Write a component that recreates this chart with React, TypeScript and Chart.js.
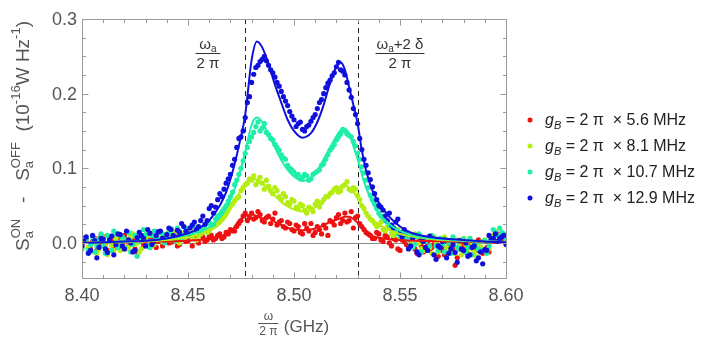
import React, { useEffect, useRef } from 'react';
import { Chart, registerables } from 'chart.js';

Chart.register(...registerables);

// ---------------- DATA ----------------
// measurement grid A (even)
const freq = [
  8.400, 8.402, 8.404, 8.406, 8.408, 8.410, 8.412, 8.414, 8.416, 8.418,
  8.420, 8.422, 8.424, 8.426, 8.428, 8.430, 8.432, 8.434, 8.436, 8.438,
  8.440, 8.442, 8.444, 8.446, 8.448, 8.450, 8.452, 8.454, 8.456, 8.458,
  8.460, 8.462, 8.464, 8.466, 8.468, 8.470, 8.472, 8.474, 8.476, 8.478,
  8.480, 8.482, 8.484, 8.486, 8.488, 8.490, 8.492, 8.494, 8.496, 8.498,
  8.500, 8.502, 8.504, 8.506, 8.508, 8.510, 8.512, 8.514, 8.516, 8.518,
  8.520, 8.522, 8.524, 8.526, 8.528, 8.530, 8.532, 8.534, 8.536, 8.538,
  8.540, 8.542, 8.544, 8.546, 8.548, 8.550, 8.552, 8.554, 8.556, 8.558,
  8.560, 8.562, 8.564, 8.566, 8.568, 8.570, 8.572, 8.574, 8.576, 8.578,
  8.580, 8.582, 8.584, 8.586, 8.588, 8.590, 8.592, 8.594, 8.596, 8.598,
  8.600,
];
// measurement grid B (odd)
const freqB = [
  8.401, 8.403, 8.405, 8.407, 8.409, 8.411, 8.413, 8.415, 8.417, 8.419,
  8.421, 8.423, 8.425, 8.427, 8.429, 8.431, 8.433, 8.435, 8.437, 8.439,
  8.441, 8.443, 8.445, 8.447, 8.449, 8.451, 8.453, 8.455, 8.457, 8.459,
  8.461, 8.463, 8.465, 8.467, 8.469, 8.471, 8.473, 8.475, 8.477, 8.479,
  8.481, 8.483, 8.485, 8.487, 8.489, 8.491, 8.493, 8.495, 8.497, 8.499,
  8.501, 8.503, 8.505, 8.507, 8.509, 8.511, 8.513, 8.515, 8.517, 8.519,
  8.521, 8.523, 8.525, 8.527, 8.529, 8.531, 8.533, 8.535, 8.537, 8.539,
  8.541, 8.543, 8.545, 8.547, 8.549, 8.551, 8.553, 8.555, 8.557, 8.559,
  8.561, 8.563, 8.565, 8.567, 8.569, 8.571, 8.573, 8.575, 8.577, 8.579,
  8.581, 8.583, 8.585, 8.587, 8.589, 8.591, 8.593, 8.595, 8.597, 8.599,
];

const redPts = [
  -0.002, 0.004, -0.008, 0.006, -0.004, 0.008, -0.010, 0.002, -0.006, 0.005,
  0.010, -0.004, 0.003, -0.012, 0.006, 0.000, -0.006, 0.008, 0.002, -0.004,
  0.006, 0.001, 0.008, -0.002, 0.010, 0.003, -0.004, 0.006, 0.012, 0.002,
  0.008, 0.004, 0.010, 0.006, 0.014, 0.018, 0.016, 0.026, 0.036, 0.030,
  0.040, 0.034, 0.038, 0.028, 0.036, 0.032, 0.024, 0.030, 0.020, 0.026,
  0.016, 0.022, 0.012, 0.020, 0.026, 0.014, 0.018, 0.024, 0.010, 0.028,
  0.034, 0.026, 0.040, 0.030, 0.020, 0.036, 0.022, 0.014, 0.010, 0.006,
  0.012, 0.002, 0.008, -0.004, 0.004, -0.010, 0.002, -0.006, 0.008, -0.014,
  -0.004, 0.006, -0.010, -0.002, -0.018, -0.006, 0.002, -0.012, -0.030, -0.008,
  -0.004, -0.014, 0.000, -0.010, -0.006, 0.002, -0.012, 0.008, 0.012, 0.004,
  0.010,
];
const redPtsB = [
  0.006, -0.006, 0.002, -0.010, 0.010, -0.002, 0.004, -0.008, 0.008, -0.002,
  0.004, 0.012, -0.008, 0.002, -0.004, 0.008, 0.004, -0.006, 0.010, 0.004,
  0.000, 0.006, -0.004, 0.008, 0.002, 0.010, 0.006, 0.000, 0.008, 0.004,
  0.010, 0.006, 0.012, 0.008, 0.012, 0.016, 0.022, 0.030, 0.040, 0.034,
  0.032, 0.042, 0.030, 0.034, 0.026, 0.040, 0.028, 0.022, 0.028, 0.018,
  0.024, 0.014, 0.026, 0.016, 0.010, 0.022, 0.012, 0.020, 0.030, 0.024,
  0.038, 0.030, 0.028, 0.042, 0.034, 0.026, 0.018, 0.012, 0.006, 0.014,
  0.004, 0.010, 0.000, 0.006, -0.008, 0.004, -0.002, 0.010, -0.008, 0.002,
  -0.012, 0.000, -0.006, 0.004, -0.010, -0.016, -0.004, -0.008, -0.020, 0.002,
  -0.012, -0.004, -0.010, 0.004, -0.014, -0.006, 0.006, 0.002, 0.010, 0.006,
];

const greenPts = [
  -0.006, 0.002, -0.012, 0.004, -0.008, 0.007, -0.016, -0.003, 0.006, -0.010,
  0.003, -0.005, 0.012, 0.000, -0.008, 0.006, 0.010, -0.002, 0.008, 0.002,
  0.012, 0.004, 0.010, 0.000, 0.006, 0.014, 0.008, 0.004, 0.012, 0.018,
  0.016, 0.022, 0.028, 0.032, 0.040, 0.050, 0.056, 0.062, 0.074, 0.080,
  0.084, 0.078, 0.088, 0.072, 0.076, 0.066, 0.070, 0.058, 0.062, 0.052,
  0.056, 0.046, 0.050, 0.040, 0.046, 0.052, 0.048, 0.058, 0.062, 0.068,
  0.074, 0.070, 0.078, 0.072, 0.074, 0.064, 0.050, 0.040, 0.032, 0.026,
  0.024, 0.018, 0.022, 0.012, 0.016, 0.008, 0.014, 0.004, -0.004, 0.010,
  -0.008, 0.002, -0.006, 0.008, -0.012, 0.004, -0.006, 0.002, -0.014, -0.004,
  0.006, -0.010, 0.000, -0.018, -0.006, 0.004, -0.008, 0.010, 0.002, 0.012,
  0.004,
];
const greenPtsB = [
  0.004, -0.006, 0.000, -0.014, 0.008, -0.004, 0.002, -0.010, 0.010, 0.004,
  -0.008, 0.008, -0.002, -0.012, 0.004, 0.012, -0.004, 0.006, 0.014, 0.004,
  0.008, 0.014, 0.002, 0.012, 0.008, 0.010, 0.016, 0.010, 0.018, 0.014,
  0.020, 0.026, 0.030, 0.036, 0.046, 0.052, 0.060, 0.070, 0.078, 0.086,
  0.090, 0.082, 0.080, 0.084, 0.070, 0.074, 0.062, 0.066, 0.054, 0.058,
  0.048, 0.052, 0.044, 0.048, 0.042, 0.056, 0.054, 0.062, 0.066, 0.072,
  0.068, 0.076, 0.082, 0.070, 0.072, 0.058, 0.046, 0.036, 0.030, 0.022,
  0.028, 0.016, 0.020, 0.010, 0.018, 0.006, 0.010, -0.002, 0.012, 0.000,
  -0.010, 0.006, -0.014, 0.002, -0.004, 0.008, -0.010, -0.002, 0.004, -0.016,
  -0.002, 0.006, -0.012, -0.004, 0.002, -0.010, 0.008, 0.016, 0.006, 0.010,
];

const cyanPts = [
  -0.008, 0.004, -0.002, -0.012, 0.006, -0.004, 0.010, -0.010, 0.012, 0.001,
  -0.006, 0.014, -0.002, -0.018, 0.005, 0.011, -0.006, 0.016, 0.004, 0.012,
  0.008, 0.019, 0.003, 0.016, 0.010, 0.020, 0.012, 0.019, 0.015, 0.024,
  0.028, 0.025, 0.036, 0.042, 0.050, 0.062, 0.078, 0.092, 0.110, 0.128,
  0.142, 0.156, 0.150, 0.160, 0.145, 0.138, 0.128, 0.118, 0.112, 0.100,
  0.095, 0.092, 0.088, 0.090, 0.086, 0.094, 0.098, 0.106, 0.118, 0.128,
  0.138, 0.146, 0.150, 0.144, 0.136, 0.120, 0.102, 0.084, 0.064, 0.052,
  0.040, 0.034, 0.028, 0.022, 0.018, 0.010, 0.016, 0.004, -0.006, 0.008,
  -0.012, 0.002, -0.004, 0.006, -0.010, -0.002, 0.004, -0.014, 0.002, -0.008,
  0.005, -0.006, -0.016, 0.000, -0.010, 0.003, -0.004, 0.018, 0.010, 0.014,
  0.006,
];
const cyanPtsB = [
  0.004, -0.010, 0.008, -0.004, 0.012, -0.014, 0.002, 0.016, -0.006, 0.008,
  0.004, -0.012, 0.010, 0.002, 0.018, -0.004, 0.010, 0.006, 0.014, 0.000,
  0.014, 0.008, 0.020, 0.006, 0.016, 0.010, 0.022, 0.016, 0.020, 0.026,
  0.024, 0.032, 0.038, 0.046, 0.056, 0.068, 0.084, 0.100, 0.120, 0.136,
  0.148, 0.162, 0.154, 0.148, 0.140, 0.132, 0.124, 0.114, 0.104, 0.098,
  0.090, 0.086, 0.092, 0.084, 0.092, 0.096, 0.104, 0.112, 0.124, 0.132,
  0.142, 0.152, 0.146, 0.142, 0.130, 0.112, 0.094, 0.074, 0.058, 0.046,
  0.036, 0.030, 0.024, 0.020, 0.012, 0.014, 0.006, 0.010, -0.002, 0.012,
  0.004, -0.008, 0.010, -0.004, 0.006, -0.012, 0.000, 0.008, -0.006, 0.004,
  -0.012, 0.006, -0.002, -0.008, 0.002, -0.014, 0.006, 0.014, 0.020, 0.012,
];

const bluePts = [
  -0.004, 0.008, -0.010, 0.003, -0.006, 0.005, -0.013, 0.009, -0.002, 0.011,
  -0.008, 0.004, -0.012, 0.007, 0.010, -0.004, 0.013, 0.002, 0.015, 0.006,
  0.011, 0.018, 0.008, 0.014, 0.022, 0.012, 0.024, 0.018, 0.030, 0.025,
  0.046, 0.040, 0.058, 0.062, 0.080, 0.092, 0.112, 0.140, 0.150, 0.188,
  0.215, 0.235, 0.243, 0.250, 0.238, 0.228, 0.215, 0.203, 0.190, 0.176,
  0.165, 0.160, 0.152, 0.156, 0.163, 0.172, 0.188, 0.200, 0.214, 0.224,
  0.236, 0.232, 0.225, 0.205, 0.180, 0.160, 0.125, 0.104, 0.085, 0.066,
  0.050, 0.044, 0.030, 0.024, 0.028, 0.013, 0.018, -0.008, 0.006, -0.012,
  0.004, -0.006, 0.009, -0.016, -0.004, 0.002, -0.020, -0.008, -0.013, 0.003,
  -0.010, -0.018, -0.006, -0.024, -0.012, -0.009, 0.010, 0.006, 0.002, 0.008,
  -0.002,
];
const bluePtsB = [
  0.002, -0.014, 0.010, -0.020, 0.006, -0.008, 0.004, -0.016, 0.012, -0.004,
  0.016, 0.000, -0.010, 0.014, 0.006, 0.018, -0.002, 0.010, 0.016, 0.004,
  0.020, 0.010, 0.017, 0.026, 0.016, 0.020, 0.028, 0.022, 0.036, 0.030,
  0.050, 0.048, 0.066, 0.072, 0.086, 0.104, 0.128, 0.142, 0.168, 0.196,
  0.226, 0.238, 0.246, 0.244, 0.232, 0.222, 0.210, 0.196, 0.184, 0.170,
  0.156, 0.162, 0.150, 0.158, 0.168, 0.180, 0.192, 0.208, 0.218, 0.228,
  0.242, 0.230, 0.215, 0.195, 0.172, 0.140, 0.112, 0.094, 0.075, 0.058,
  0.048, 0.036, 0.040, 0.020, 0.032, 0.008, 0.012, -0.004, 0.010, -0.016,
  0.002, -0.010, 0.006, -0.022, -0.006, 0.004, -0.014, -0.002, -0.026, -0.008,
  0.000, -0.016, -0.004, -0.020, -0.028, -0.010, 0.004, 0.012, 0.006, 0.010,
];

// fitted model curves
const fitFreq = [
  8.400, 8.410, 8.420, 8.430, 8.440, 8.450, 8.455, 8.460, 8.465, 8.468,
  8.471, 8.474, 8.477, 8.480, 8.4825, 8.485, 8.488, 8.491, 8.494, 8.497,
  8.500, 8.504, 8.508, 8.511, 8.514, 8.517, 8.520, 8.522, 8.524, 8.526,
  8.528, 8.530, 8.532, 8.534, 8.537, 8.540, 8.545, 8.550, 8.555, 8.560,
  8.570, 8.580, 8.590, 8.600,
];
const redFit = [
  0.000, 0.001, 0.001, 0.002, 0.002, 0.003, 0.004, 0.005, 0.008, 0.012,
  0.018, 0.030, 0.036, 0.038, 0.036, 0.033, 0.034, 0.028, 0.024, 0.020,
  0.018, 0.017, 0.018, 0.020, 0.024, 0.028, 0.031, 0.033, 0.035, 0.035,
  0.032, 0.027, 0.021, 0.014, 0.009, 0.007, 0.005, 0.004, 0.003, 0.003,
  0.002, 0.002, 0.001, 0.001,
];
const greenFit = [
  0.000, 0.001, 0.001, 0.002, 0.004, 0.008, 0.011, 0.016, 0.025, 0.035,
  0.050, 0.066, 0.080, 0.086, 0.085, 0.080, 0.072, 0.063, 0.055, 0.049,
  0.045, 0.042, 0.044, 0.050, 0.058, 0.066, 0.073, 0.076, 0.077, 0.074,
  0.068, 0.060, 0.050, 0.040, 0.031, 0.025, 0.017, 0.012, 0.009, 0.007,
  0.004, 0.003, 0.002, 0.001,
];
const cyanFit = [
  0.000, 0.001, 0.002, 0.003, 0.006, 0.011, 0.015, 0.021, 0.034, 0.046,
  0.065, 0.090, 0.122, 0.158, 0.168, 0.162, 0.146, 0.128, 0.111, 0.098,
  0.089, 0.083, 0.087, 0.097, 0.112, 0.128, 0.143, 0.151, 0.153, 0.146,
  0.130, 0.112, 0.092, 0.074, 0.054, 0.040, 0.025, 0.016, 0.011, 0.008,
  0.005, 0.003, 0.002, 0.001,
];
const blueFit = [
  0.000, 0.001, 0.002, 0.003, 0.006, 0.013, 0.019, 0.030, 0.050, 0.068,
  0.095, 0.130, 0.172, 0.245, 0.270, 0.262, 0.240, 0.212, 0.188, 0.165,
  0.150, 0.141, 0.147, 0.162, 0.185, 0.214, 0.236, 0.242, 0.232, 0.209,
  0.185, 0.160, 0.124, 0.097, 0.070, 0.054, 0.035, 0.022, 0.014, 0.010,
  0.006, 0.004, 0.002, 0.001,
];

const couplings = ['5.6', '8.1', '10.7', '12.9'];
const seriesColors = ['#ee1111', '#b4ee11', '#1eeeaa', '#1010dd'];

const xTickValues = [8.40, 8.45, 8.50, 8.55, 8.60];
const xTickLabels = ['8.40', '8.45', '8.50', '8.55', '8.60'];
const yTickValues = [0.0, 0.1, 0.2, 0.3];
const yTickLabels = ['0.0', '0.1', '0.2', '0.3'];
const markerLines = [8.477, 8.530];

// ---------------- STYLE / HELPERS ----------------
const FONT = '"Liberation Sans", Arial, Helvetica, sans-serif';

type Seg = { t: string; s: number; it?: boolean; dy?: number; noAdv?: boolean };

function segFont(g: Seg) {
  return `${g.it ? 'italic ' : ''}${g.s}px ${FONT}`;
}
function richWidth(ctx: CanvasRenderingContext2D, segs: Seg[]) {
  let w = 0;
  for (const g of segs) {
    if (g.noAdv) continue;
    ctx.font = segFont(g);
    w += ctx.measureText(g.t).width;
  }
  return w;
}
function drawRich(
  ctx: CanvasRenderingContext2D,
  segs: Seg[],
  x: number,
  y: number,
  align: 'left' | 'center' | 'right'
) {
  const w = richWidth(ctx, segs);
  let cx = align === 'left' ? x : align === 'center' ? x - w / 2 : x - w;
  ctx.textAlign = 'left';
  ctx.textBaseline = 'alphabetic';
  for (const g of segs) {
    ctx.font = segFont(g);
    ctx.fillText(g.t, cx, y + (g.dy || 0));
    if (!g.noAdv) cx += ctx.measureText(g.t).width;
  }
  return w;
}

function drawFraction(
  ctx: CanvasRenderingContext2D,
  top: Seg[],
  bottom: Seg[],
  cx: number,
  lineY: number,
  gapTop: number,
  gapBottom: number,
  color: string
) {
  ctx.fillStyle = color;
  const w1 = drawRich(ctx, top, cx, lineY - gapTop, 'center');
  const w2 = drawRich(ctx, bottom, cx, lineY + gapBottom, 'center');
  const w = Math.max(w1, w2) + 2;
  ctx.strokeStyle = color;
  ctx.lineWidth = 1;
  ctx.beginPath();
  ctx.moveTo(cx - w / 2, lineY + 0.5);
  ctx.lineTo(cx + w / 2, lineY + 0.5);
  ctx.stroke();
  return w;
}

const decorPlugin = {
  id: 'decor',
  beforeDatasetsDraw(chart: any) {
    const { ctx, chartArea: a, scales } = chart;
    const x = scales.x;
    const y = scales.y;
    ctx.save();
    const y0 = Math.round(y.getPixelForValue(0)) + 0.5;
    ctx.strokeStyle = '#8c8c8c';
    ctx.lineWidth = 1;
    ctx.beginPath();
    ctx.moveTo(a.left, y0);
    ctx.lineTo(a.right, y0);
    ctx.stroke();
    ctx.strokeStyle = '#222';
    ctx.setLineDash([5, 4]);
    for (const m of markerLines) {
      const px = Math.round(x.getPixelForValue(m)) + 0.5;
      ctx.beginPath();
      ctx.moveTo(px, a.top);
      ctx.lineTo(px, a.bottom);
      ctx.stroke();
    }
    ctx.restore();
  },
  afterDatasetsDraw(chart: any) {
    const { ctx, chartArea: a, scales } = chart;
    const x = scales.x;
    const y = scales.y;
    ctx.save();
    const L = Math.round(a.left) + 0.5;
    const R = Math.round(a.right) + 0.5;
    const T = Math.round(a.top) + 0.5;
    const B = Math.round(a.bottom) + 0.5;
    ctx.strokeStyle = '#9a9a9a';
    ctx.lineWidth = 1;
    ctx.strokeRect(L, T, R - L, B - T);

    // ticks (inward, on all four sides)
    ctx.beginPath();
    for (let i = 0; ; i++) {
      const v = 8.40 + i * 0.01;
      if (v > x.max + 1e-9) break;
      const len = i % 5 === 0 ? 6 : 3.5;
      const px = Math.round(x.getPixelForValue(v)) + 0.5;
      ctx.moveTo(px, B);
      ctx.lineTo(px, B - len);
      ctx.moveTo(px, T);
      ctx.lineTo(px, T + len);
    }
    for (let i = -2; ; i++) {
      const v = i * 0.025;
      if (v > y.max + 1e-9) break;
      if (v < y.min) continue;
      const len = i % 4 === 0 ? 6 : 3.5;
      const py = Math.round(y.getPixelForValue(v)) + 0.5;
      ctx.moveTo(L, py);
      ctx.lineTo(L + len, py);
      ctx.moveTo(R, py);
      ctx.lineTo(R - len, py);
    }
    ctx.stroke();

    // tick labels
    ctx.fillStyle = '#555';
    ctx.font = `18px ${FONT}`;
    ctx.textAlign = 'center';
    ctx.textBaseline = 'middle';
    xTickValues.forEach((v, i) => {
      ctx.fillText(xTickLabels[i], x.getPixelForValue(v), 296);
    });
    ctx.textAlign = 'right';
    yTickValues.forEach((v, i) => {
      ctx.fillText(yTickLabels[i], a.left - 5, y.getPixelForValue(v) + 1);
    });

    // x axis title
    const cxTitle = (a.left + a.right) / 2;
    ctx.font = `17px ${FONT}`;
    const gW = ctx.measureText('(GHz)').width;
    const fracW = 19;
    const total = fracW + 6 + gW;
    const startX = cxTitle - total / 2;
    drawFraction(ctx, [{ t: 'ω', s: 12 }], [{ t: '2 π', s: 12 }], startX + fracW / 2, 323, 3, 12, '#555');
    ctx.fillStyle = '#555';
    drawRich(ctx, [{ t: '(GHz)', s: 17 }], startX + fracW + 6, 332, 'left');

    // y axis title (rotated)
    ctx.save();
    ctx.translate(29, 136);
    ctx.rotate(-Math.PI / 2);
    ctx.fillStyle = '#555';
    const ySegs: Seg[] = [
      { t: 'S', s: 19 },
      { t: 'a', s: 13, dy: 4, noAdv: true },
      { t: 'ON', s: 13, dy: -9 },
      { t: '   -   ', s: 19 },
      { t: 'S', s: 19 },
      { t: 'a', s: 13, dy: 4, noAdv: true },
      { t: 'OFF', s: 13, dy: -9 },
      { t: '  (10', s: 19 },
      { t: '-16', s: 13, dy: -9 },
      { t: 'W Hz', s: 19 },
      { t: '-1', s: 13, dy: -9 },
      { t: ')', s: 19 },
    ];
    drawRich(ctx, ySegs, 0, 0, 'center');
    ctx.restore();

    // annotations
    drawFraction(
      ctx,
      [{ t: 'ω', s: 15 }, { t: 'a', s: 10, dy: 3 }],
      [{ t: '2 π', s: 15 }],
      208, 53, 4, 15, '#333'
    );
    drawFraction(
      ctx,
      [{ t: 'ω', s: 15 }, { t: 'a', s: 10, dy: 3 }, { t: '+2 δ', s: 15 }],
      [{ t: '2 π', s: 15 }],
      400, 53, 4, 15, '#333'
    );

    // legend
    const rows = [120, 146, 172, 198];
    couplings.forEach((c, i) => {
      const cy = rows[i];
      ctx.fillStyle = seriesColors[i];
      ctx.beginPath();
      ctx.arc(530, cy, 2.5, 0, Math.PI * 2);
      ctx.fill();
      ctx.fillStyle = '#222';
      drawRich(
        ctx,
        [
          { t: 'g', s: 16, it: true },
          { t: 'B', s: 11, it: true, dy: 4 },
          { t: ` = 2 π  × ${c} MHz`, s: 16 },
        ],
        545,
        cy + 5,
        'left'
      );
    });

    ctx.restore();
  },
};

function buildDatasets() {
  const ptsA = [redPts, greenPts, cyanPts, bluePts];
  const ptsB = [redPtsB, greenPtsB, cyanPtsB, bluePtsB];
  const fits = [redFit, greenFit, cyanFit, blueFit];
  const ds: any[] = [];
  fits.forEach((f, i) => {
    ds.push({
      type: 'line',
      label: `fit ${couplings[i]}`,
      data: fitFreq.map((fx, k) => ({ x: fx, y: f[k] })),
      borderColor: seriesColors[i],
      borderWidth: 2,
      pointRadius: 0,
      fill: false,
      cubicInterpolationMode: 'monotone',
      order: 3 - i,
    });
  });
  ptsA.forEach((p, i) => {
    const data = [
      ...freq.map((fx, k) => ({ x: fx, y: p[k] })),
      ...freqB.map((fx, k) => ({ x: fx, y: ptsB[i][k] })),
    ];
    ds.push({
      type: 'scatter',
      label: `g ${couplings[i]}`,
      data,
      backgroundColor: seriesColors[i],
      borderWidth: 0,
      pointRadius: 2.6,
      order: 13 - i,
    });
  });
  return ds;
}

export default function App() {
  const ref = useRef<HTMLCanvasElement | null>(null);
  useEffect(() => {
    if (!ref.current) return;
    const chart = new Chart(ref.current, {
      type: 'scatter',
      data: { datasets: buildDatasets() },
      options: {
        responsive: false,
        maintainAspectRatio: false,
        devicePixelRatio: 1,
        animation: false,
        layout: { padding: { left: 82, right: 200, top: 19, bottom: 61 } },
        plugins: { legend: { display: false }, tooltip: { enabled: false } },
        scales: {
          x: { type: 'linear', display: false, min: 8.40, max: 8.60 },
          y: { type: 'linear', display: false, min: -0.047, max: 0.3 },
        },
      },
      plugins: [decorPlugin],
    } as any);
    return () => chart.destroy();
  }, []);
  return (
    <div style={{ position: 'absolute', left: 0, top: 0, width: 706, height: 339, background: '#fff' }}>
      <canvas ref={ref} width={706} height={339} style={{ display: 'block' }} />
    </div>
  );
}
